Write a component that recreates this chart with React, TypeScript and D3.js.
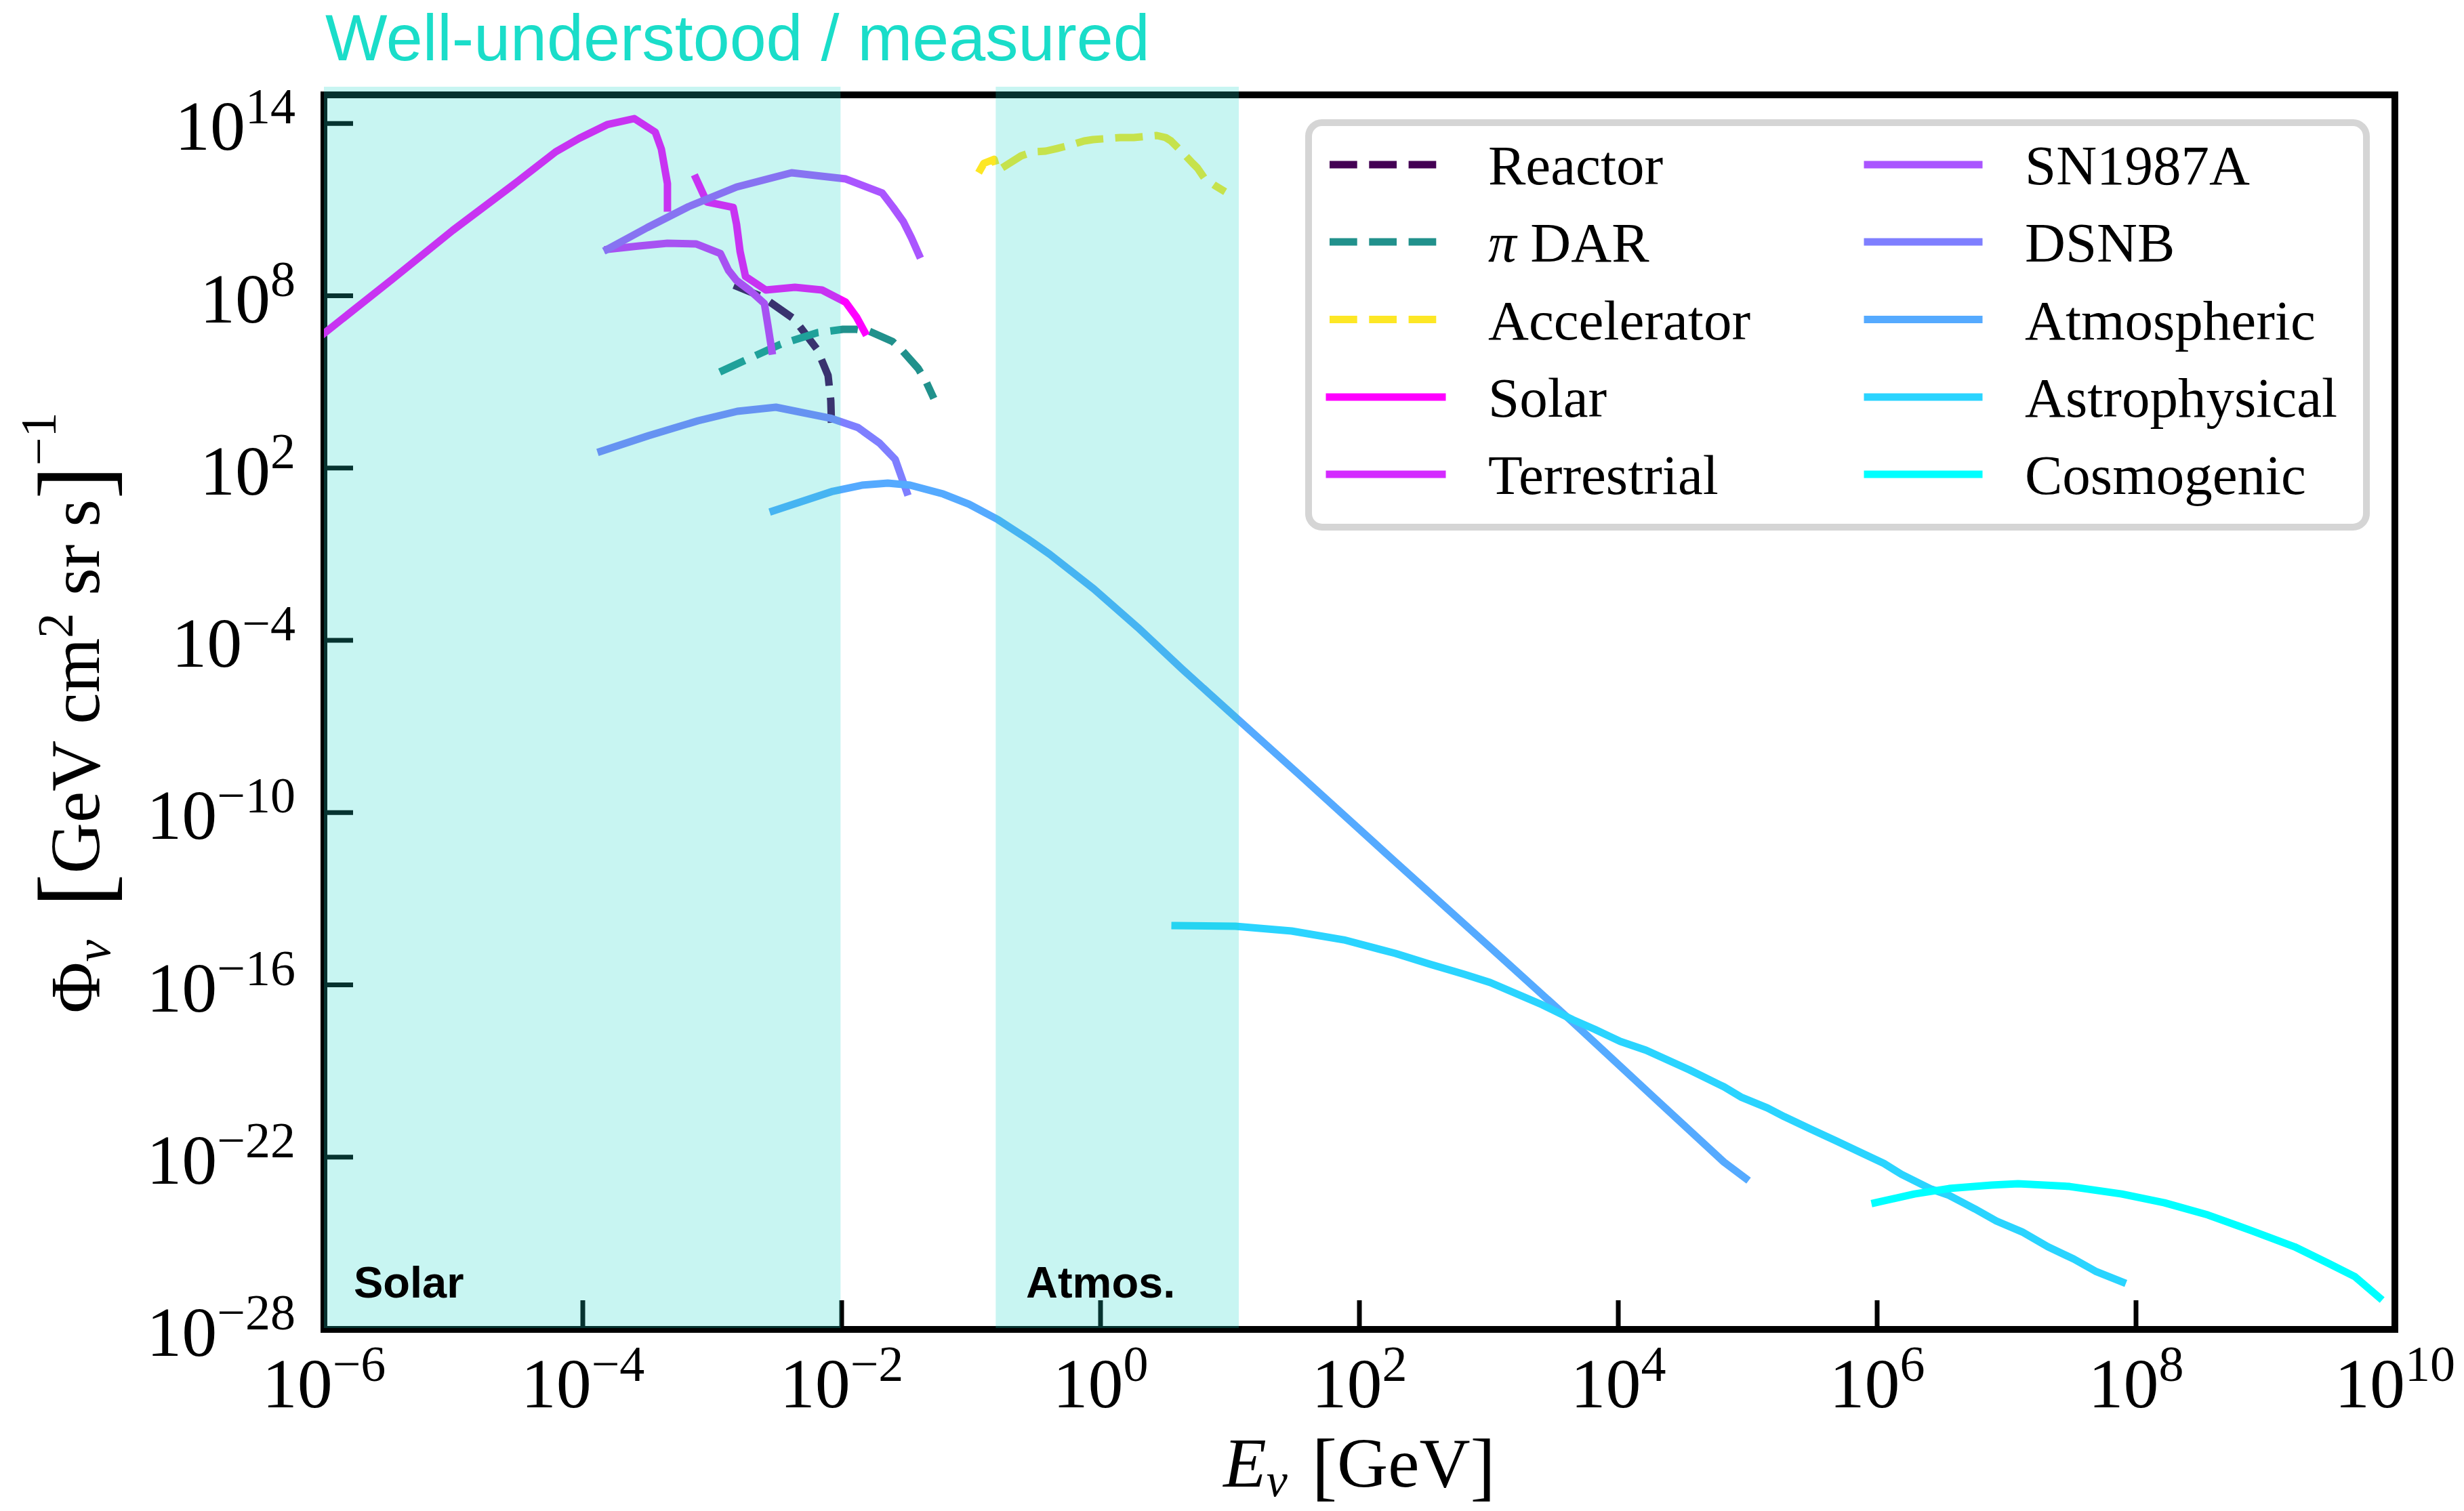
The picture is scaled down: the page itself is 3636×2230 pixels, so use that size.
import React, { useEffect } from "react";
import * as d3 from "d3";

const WIDTH = 3636;
const HEIGHT = 2230;

// ---- axes ----
const xTickExponents = [-6, -4, -2, 0, 2, 4, 6, 8, 10];
const yTickExponents = [-28, -22, -16, -10, -4, 2, 8, 14];

// ---- shaded "well-understood / measured" regions (GeV) ----
const bandStartsGeV = [1e-6, 0.155];
const bandEndsGeV = [0.0098, 11.7];
const bandLabels = ["Solar", "Atmos."];

// ---- series: log10(E / GeV) and log10(flux) ----
const reactorLogE = [-2.832, -2.613, -2.366, -2.188, -2.105, -2.084, -2.079];
const reactorLogPhi = [8.368, 7.967, 7.188, 6.126, 5.229, 4.356, 3.577];

const piDarLogE = [-2.942, -2.749, -2.471, -2.188, -1.99, -1.89, -1.785, -1.607, -1.529, -1.408, -1.346, -1.288];
const piDarLogPhi = [5.347, 5.748, 6.315, 6.716, 6.834, 6.834, 6.763, 6.409, 6.079, 5.465, 4.993, 4.427];

const acceleratorLogE = [-0.942, -0.901, -0.822, -0.796, -0.613, -0.518, -0.424, -0.335, -0.23, -0.126, -0.058, 0.152, 0.257, 0.435, 0.503, 0.545, 0.623, 0.712, 0.749, 0.803, 0.885, 0.963];
const acceleratorLogPhi = [12.286, 12.616, 12.758, 12.357, 12.876, 13.017, 13.041, 13.135, 13.253, 13.395, 13.442, 13.513, 13.513, 13.584, 13.513, 13.395, 13.041, 12.616, 12.451, 12.097, 11.837, 11.625];

const solarLowLogE = [-6.05, -5.471, -5.005, -4.539, -4.209, -4.026, -3.812, -3.602, -3.44, -3.393, -3.346, -3.346];
const solarLowLogPhi = [6.51, 8.58, 10.28, 11.861, 13.017, 13.49, 13.962, 14.174, 13.702, 13.112, 11.908, 11.059];

const solarHighLogE = [-3.126, -3.042, -2.838, -2.812, -2.785, -2.743, -2.586, -2.361, -2.152, -1.969, -1.885, -1.822];
const solarHighLogPhi = [12.097, 11.271, 11.082, 10.492, 9.548, 8.675, 8.203, 8.297, 8.203, 7.778, 7.259, 6.739];

const terrestrialLogE = [-3.806, -3.565, -3.346, -3.126, -2.937, -2.874, -2.812, -2.707, -2.597, -2.571, -2.539];
const terrestrialLogPhi = [9.619, 9.737, 9.831, 9.808, 9.477, 8.887, 8.533, 8.179, 7.731, 7.0, 6.079];

const sn1987aLogE = [-3.812, -3.503, -3.183, -2.812, -2.387, -1.969, -1.686, -1.602, -1.524, -1.461, -1.403];
const sn1987aLogPhi = [9.619, 10.374, 11.106, 11.79, 12.286, 12.073, 11.578, 11.082, 10.586, 10.02, 9.43];

const dsnbLogE = [-3.859, -3.492, -3.11, -2.806, -2.508, -2.089, -1.874, -1.707, -1.586, -1.497];
const dsnbLogPhi = [2.586, 3.129, 3.648, 3.978, 4.12, 3.742, 3.412, 2.869, 2.302, 1.169];

const atmosphericLogE = [-2.529, -2.068, -1.843, -1.644, -1.471, -1.215, -1.016, -0.791, -0.565, -0.393, -0.052, 0.288, 0.628, 1.052, 1.534, 2.272, 3.01, 3.634, 4.283, 4.817, 4.984];
const atmosphericLogPhi = [0.509, 1.193, 1.405, 1.476, 1.405, 1.098, 0.744, 0.202, -0.459, -1.002, -2.206, -3.551, -4.991, -6.714, -8.672, -11.693, -14.691, -17.24, -19.954, -22.173, -22.739];

const astrophysicalLogE = [0.576, 1.042, 1.476, 1.88, 2.277, 2.545, 2.812, 3.01, 3.414, 3.649, 3.817, 4.016, 4.215, 4.55, 4.817, 4.948, 5.152, 5.283, 5.482, 5.686, 5.885, 6.052, 6.188, 6.419, 6.555, 6.754, 6.921, 7.12, 7.319, 7.518, 7.686, 7.895];
const astrophysicalLogPhi = [-13.936, -13.959, -14.124, -14.431, -14.903, -15.28, -15.634, -15.918, -16.697, -17.216, -17.546, -17.971, -18.278, -18.962, -19.552, -19.906, -20.284, -20.591, -21.015, -21.44, -21.865, -22.219, -22.597, -23.116, -23.328, -23.8, -24.225, -24.603, -25.122, -25.547, -25.972, -26.349];

const cosmogenicLogE = [5.984, 6.288, 6.555, 6.885, 7.089, 7.487, 7.89, 8.22, 8.555, 8.89, 9.225, 9.492, 9.691, 9.88];
const cosmogenicLogPhi = [-23.589, -23.282, -23.093, -22.975, -22.928, -23.022, -23.282, -23.589, -24.013, -24.556, -25.122, -25.712, -26.161, -26.892];

const legendNames = ["Reactor", "π DAR", "Accelerator", "Solar", "Terrestrial", "SN1987A", "DSNB", "Atmospheric", "Astrophysical", "Cosmogenic"];
const legendColors = ["#440154", "#21918C", "#FDE725", "#FF00FF", "#D42AFF", "#AA55FF", "#7F7FFF", "#55AAFF", "#2AD4FF", "#00FFFF"];
const legendDashed = [true, true, true, false, false, false, false, false, false, false];

const zip = (a: number[], b: number[]) => a.map((v, i) => [Math.pow(10, v), Math.pow(10, b[i])] as [number, number]);

const seriesList = [
  { key: "reactor", idx: 0, pts: zip(reactorLogE, reactorLogPhi) },
  { key: "pidar", idx: 1, pts: zip(piDarLogE, piDarLogPhi) },
  { key: "accel", idx: 2, pts: zip(acceleratorLogE, acceleratorLogPhi) },
  { key: "solarLow", idx: 3, pts: zip(solarLowLogE, solarLowLogPhi) },
  { key: "solarHigh", idx: 3, pts: zip(solarHighLogE, solarHighLogPhi) },
  { key: "terr", idx: 4, pts: zip(terrestrialLogE, terrestrialLogPhi) },
  { key: "sn", idx: 5, pts: zip(sn1987aLogE, sn1987aLogPhi) },
  { key: "dsnb", idx: 6, pts: zip(dsnbLogE, dsnbLogPhi) },
  { key: "atm", idx: 7, pts: zip(atmosphericLogE, atmosphericLogPhi) },
  { key: "astro", idx: 8, pts: zip(astrophysicalLogE, astrophysicalLogPhi) },
  { key: "cosmo", idx: 9, pts: zip(cosmogenicLogE, cosmogenicLogPhi) },
];

const L = 478, R = 3534, T = 140, B = 1962;
const LW = 11;
const DASH = "40.7 17.6";
const SERIF = "'Liberation Serif', 'DejaVu Serif', serif";
const SANS = "'Liberation Sans', Arial, sans-serif";
const BAND_COLOR = "#19D5C9";
const BAND_ALPHA = 0.24;

function expText(e: number) {
  return e < 0 ? "\u2212" + String(-e) : String(e);
}

export default function App() {
  useEffect(() => {
    document.body.style.margin = "0";
    document.body.style.overflow = "hidden";
  }, []);

  const x = d3.scaleLog().domain([1e-6, 1e10]).range([L, R]);
  const y = d3.scaleLog().domain([1e-28, 1e15]).range([B, T]);
  const line = d3
    .line<[number, number]>()
    .x((d) => x(d[0]))
    .y((d) => y(d[1]));

  const legendRowsY = [243, 357, 471.5, 586, 700];
  const legendCols = [
    { x0: 1962, x1: 2128, tx: 2196 },
    { x0: 2756, x1: 2920, tx: 2988 },
  ];

  return (
    <svg width={WIDTH} height={HEIGHT} style={{ position: "absolute", left: 0, top: 0, background: "#fff" }}>
      <defs>
        <clipPath id="plotClip">
          <rect x={L} y={T} width={R - L} height={B - T} />
        </clipPath>
      </defs>
      <rect x={0} y={0} width={WIDTH} height={HEIGHT} fill="#fff" />

      {/* title */}
      <text x={480} y={89} fontFamily={SANS} fontSize={97} fill="#1ADDC9">
        Well-understood / measured
      </text>

      {/* spines */}
      <rect x={L} y={T} width={R - L} height={B - T} fill="none" stroke="#000" strokeWidth={10} />

      {/* ticks */}
      {xTickExponents.map((e) => (
        <line key={"xt" + e} x1={x(Math.pow(10, e))} x2={x(Math.pow(10, e))} y1={B} y2={B - 43} stroke="#000" strokeWidth={7} />
      ))}
      {yTickExponents.map((e) => (
        <line key={"yt" + e} x1={L} x2={L + 43} y1={y(Math.pow(10, e))} y2={y(Math.pow(10, e))} stroke="#000" strokeWidth={7} />
      ))}

      {/* tick labels */}
      {xTickExponents.map((e) => (
        <text key={"xl" + e} x={x(Math.pow(10, e))} y={2077} textAnchor="middle" fontFamily={SERIF} fontSize={104} fill="#000">
          10
          <tspan fontSize={74} dy={-39}>
            {expText(e)}
          </tspan>
        </text>
      ))}
      {yTickExponents.map((e) => (
        <text key={"yl" + e} x={436} y={y(Math.pow(10, e)) + 39} textAnchor="end" fontFamily={SERIF} fontSize={104} fill="#000">
          10
          <tspan fontSize={74} dy={-39}>
            {expText(e)}
          </tspan>
        </text>
      ))}

      {/* series */}
      <g clipPath="url(#plotClip)">
        {seriesList.map((s) => (
          <path
            key={s.key}
            d={line(s.pts) || ""}
            fill="none"
            stroke={legendColors[s.idx]}
            strokeWidth={LW}
            strokeDasharray={legendDashed[s.idx] ? DASH : undefined}
            strokeLinecap={legendDashed[s.idx] ? "butt" : "square"}
            strokeLinejoin="round"
          />
        ))}
      </g>

      {/* shaded regions */}
      {bandStartsGeV.map((b, i) => (
        <rect
          key={"band" + i}
          x={x(b)}
          y={128}
          width={x(bandEndsGeV[i]) - x(b)}
          height={1960 - 128}
          fill={BAND_COLOR}
          fillOpacity={BAND_ALPHA}
        />
      ))}
      <text x={522} y={1915} fontFamily={SANS} fontWeight="bold" fontSize={65} fill="#000">
        {bandLabels[0]}
      </text>
      <text x={1514} y={1915} fontFamily={SANS} fontWeight="bold" fontSize={65} fill="#000">
        {bandLabels[1]}
      </text>

      {/* axis labels */}
      <text x={2006} y={2194} textAnchor="middle" fontFamily={SERIF} fontSize={104} fill="#000">
        <tspan fontStyle="italic">E</tspan>
        <tspan fontStyle="italic" fontSize={70} dy={14}>
          ν
        </tspan>
        <tspan dy={-7} dx={36} fontSize={112}>
          [
        </tspan>
        <tspan dy={-7}>GeV</tspan>
        <tspan dy={7} fontSize={112}>
          ]
        </tspan>
      </text>

      <g transform="translate(146,1052) rotate(-90)">
        <text x={0} y={0} textAnchor="middle" fontFamily={SERIF} fontSize={104} fill="#000">
          Φ
          <tspan fontStyle="italic" fontSize={73} dy={16}>
            ν
          </tspan>
          <tspan dx={48} dy={-2} fontSize={150}>
            [
          </tspan>
          <tspan dy={-14}>GeV cm</tspan>
          <tspan fontSize={74} dy={-39}>
            2
          </tspan>
          <tspan dy={39}> sr s</tspan>
          <tspan fontSize={150} dy={14}>
            ]
          </tspan>
          <tspan fontSize={74} dy={-78}>
            {"\u22121"}
          </tspan>
        </text>
      </g>

      {/* legend */}
      <rect x={1931} y={181} width={1561} height={597} rx={20} ry={20} fill="#fff" stroke="#D5D5D5" strokeWidth={10} />
      {legendNames.map((name, i) => {
        const col = legendCols[i < 5 ? 0 : 1];
        const ry = legendRowsY[i % 5];
        return (
          <g key={"lg" + i}>
            <line
              x1={col.x0}
              x2={col.x1}
              y1={ry}
              y2={ry}
              stroke={legendColors[i]}
              strokeWidth={LW}
              strokeDasharray={legendDashed[i] ? DASH : undefined}
              strokeLinecap={legendDashed[i] ? "butt" : "square"}
            />
            <text x={col.tx} y={ry + 29} fontFamily={SERIF} fontSize={83} fill="#000">
              {name.startsWith("π") ? (
                <>
                  <tspan fontStyle="italic">π</tspan>
                  <tspan>{name.slice(1)}</tspan>
                </>
              ) : (
                name
              )}
            </text>
          </g>
        );
      })}
    </svg>
  );
}
